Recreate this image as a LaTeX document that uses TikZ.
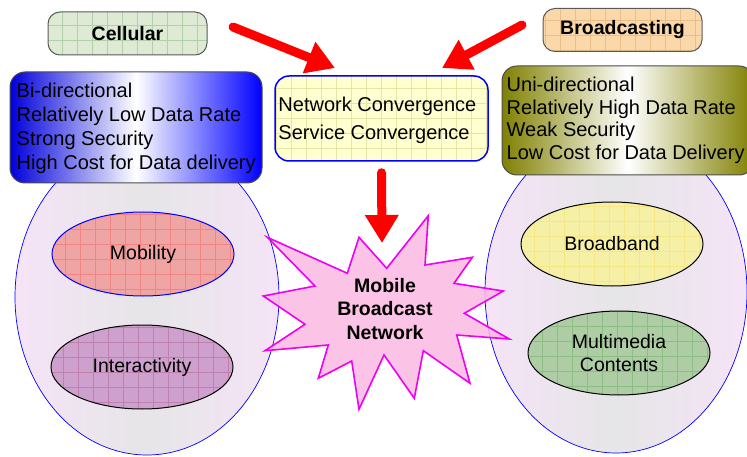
\documentclass[tikz,border=0pt]{standalone}
\usepackage{fontspec}
\setmainfont{Liberation Sans}
\usetikzlibrary{shapes.geometric,arrows.meta}

\definecolor{cellfill}{RGB}{222,234,212}
\definecolor{bcfill}{RGB}{250,216,170}
\definecolor{ctrfill}{RGB}{255,255,208}
\definecolor{mobfill}{RGB}{240,165,165}
\definecolor{intfill}{RGB}{205,160,205}
\definecolor{bbfill}{RGB}{245,240,165}
\definecolor{mmfill}{RGB}{175,205,165}
\definecolor{starfill}{RGB}{250,185,225}
\definecolor{starline}{RGB}{240,0,240}
\definecolor{lav}{RGB}{245,228,247}
\definecolor{midgray}{RGB}{230,229,231}
\definecolor{deepblue}{RGB}{0,0,220}
\definecolor{olive}{RGB}{128,128,0}

\tikzset{
  tex/.style={path picture={\draw[#1,line width=0.3pt,opacity=0.2]
      ([shift={(-1pt,-1pt)}]path picture bounding box.south west) grid[step=15pt]
      (path picture bounding box.north east);}},
  headbox/.style={draw=black!65, line width=1pt, rounded corners=12pt,
      minimum width=159pt, minimum height=43pt, inner sep=0pt,
      font=\bfseries\fontsize{19.5}{22}\selectfont},
  listbox/.style={draw=black!70, line width=1pt, rounded corners=15pt, inner sep=0pt},
  listtext/.style={anchor=west, inner sep=0pt, align=left,
      font=\fontsize{20}{#1}\selectfont},
  bigoval/.style={ellipse, draw=blue, line width=0.7pt, inner sep=0pt,
      left color=lav, right color=lav, middle color=midgray},
  oval/.style={ellipse, line width=1pt, inner sep=0pt,
      minimum width=182pt, minimum height=84pt,
      font=\fontsize{19.5}{23}\selectfont, align=center},
  redarrow/.style={draw=red, line width=9pt, line cap=round,
      -{Triangle[width=32pt,length=28pt]}}
}

\begin{document}
\begin{tikzpicture}[x=1pt,y=-1pt]
\useasboundingbox (0,0) rectangle (747,457);

% large clusters behind everything
\node[bigoval, minimum width=264pt, minimum height=316pt] (lclu) at (147,297) {};
\node[bigoval, minimum width=262pt, minimum height=322pt] (rclu) at (616,292) {};

% headings
\node[headbox, fill=cellfill, tex=green!40!black] (cell) at (127.5,33.5) {Cellular};
\node[headbox, fill=bcfill, tex=orange!70!black] (bcast) at (622.5,30) {Broadcasting};

% property lists
\node[listbox, minimum width=252pt, minimum height=111pt,
      left color=deepblue, right color=blue, middle color=white] (bi) at (136,127.5) {};
\node[listtext=24pt] (bitxt) at ([xshift=7pt,yshift=-1pt]bi.west)
  {Bi-directional\\Relatively Low Data Rate\\Strong Security\\High Cost for Data delivery};

\node[listbox, minimum width=252pt, minimum height=109pt,
      left color=olive, right color=olive, middle color=white] (uni) at (628,120.5) {};
\node[listtext=22.5pt] (unitxt) at ([xshift=5pt]uni.west)
  {Uni-directional\\Relatively High Data Rate\\Weak Security\\Low Cost for Data Delivery};

% convergence box
\node[draw=blue, line width=1.5pt, rounded corners=14pt, fill=ctrfill, tex=olive,
      minimum width=213pt, minimum height=85pt, inner sep=0pt] (ctr) at (381.5,118.5) {};
\node[listtext=28pt] (ctrtxt) at ([xshift=4pt,yshift=-1.5pt]ctr.west)
  {Network Convergence\\Service Convergence};

% features
\node[oval, draw=blue, fill=mobfill, tex=red] (mob) at (143,254) {Mobility};
\node[oval, draw=black, fill=intfill, tex=purple!70!black] (inter) at (142,367) {Interactivity};
\node[oval, draw=black, fill=bbfill, tex=yellow!60!orange] (bb) at (612,244) {Broadband};
\node[oval, draw=black, fill=mmfill, tex=green!50!black] (mm) at (619,353) {Multimedia\\Contents};

% burst
\draw[draw=starline, line width=1.6pt, fill=starfill, fill opacity=0.85, line join=miter]
  (267.3,237.3) -- (347.3,273.3) -- (359,237.3) -- (386.7,268.3) -- (428.3,215.7)
  -- (425,265) -- (472.3,257.3) -- (454,283.3) -- (503.3,291) -- (464.3,313.3)
  -- (509.3,339) -- (456.7,335) -- (470,383.3) -- (423.3,350.7) -- (414.3,398.3)
  -- (384,355) -- (359,409.3) -- (351.7,361) -- (318.3,378.3) -- (328.3,345)
  -- (265,350.7) -- (305,324.3) -- (263.3,296) -- (315,286) -- cycle;
\node[align=center, inner sep=0pt, font=\bfseries\fontsize{19.5}{23.5}\selectfont]
  (mbn) at (385,309) {Mobile\\Broadcast\\Network};

% arrows
\coordinate (a1s) at (233,27);
\coordinate (a1e) at (335,68);
\coordinate (a2s) at (522,25);
\coordinate (a2e) at (442,68);
\coordinate (a3s) at ([yshift=-11pt]ctr.south);
\coordinate (a3e) at (382,243);
\draw[redarrow] (a1s) -- (a1e);
\draw[redarrow] (a2s) -- (a2e);
\draw[redarrow] (a3s) -- (a3e);
\end{tikzpicture}
\end{document}
